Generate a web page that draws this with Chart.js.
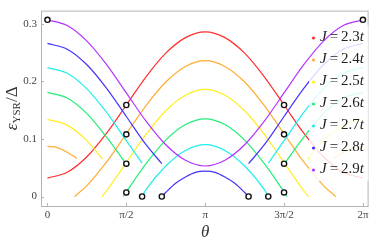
<!DOCTYPE html>
<html>
<head>
<meta charset="utf-8">
<script src="https://cdn.jsdelivr.net/npm/chart.js@4"></script>
<style>
body { margin: 0; background: #fff; }
#wrap { width: 374px; height: 248px; }
</style>
</head>
<body>
<div id="wrap"><canvas id="ysrChart" width="374" height="248"></canvas></div>
<script>
// theta is given in units of pi (0 .. 2), energies in units of Delta
const jValues = ['2.3', '2.4', '2.5', '2.6', '2.7', '2.8', '2.9'];
const jColors = ['#ff2d2d', '#ffad33', '#ffee22', '#22ee77', '#22eeee', '#4433ff', '#b533ff'];

const xTicks = [0, 0.5, 1, 1.5, 2];
const xTickLabels = ['0', 'π/2', 'π', '3π/2', '2π'];
const yTicks = [0, 0.1, 0.2, 0.3];

// J = 2.3t : lower branch only
const redX = [0, 0.125, 0.25, 0.375, 0.5, 0.625, 0.75, 0.875, 1, 1.125, 1.25, 1.375, 1.5, 1.625, 1.75, 1.875, 2];
const redY = [0.032, 0.042, 0.069, 0.110, 0.159, 0.208, 0.249, 0.276, 0.286, 0.276, 0.249, 0.208, 0.159, 0.110, 0.069, 0.042, 0.032];

// J = 2.4t
const orangeLowX = [0.172, 0.25, 0.375, 0.5, 0.625, 0.75, 0.875, 1, 1.125, 1.25, 1.375, 1.5, 1.625, 1.75, 1.828];
const orangeLowY = [0, 0.019, 0.060, 0.109, 0.158, 0.199, 0.226, 0.236, 0.226, 0.199, 0.158, 0.109, 0.060, 0.019, 0];
const orangeUpX = [0, 0.0625, 0.125, 0.1875, 1, 1.8125, 1.875, 1.9375, 2];
const orangeUpY = [0.087, 0.085, 0.077, 0.066, null, 0.066, 0.077, 0.085, 0.087];

// J = 2.5t
const yellowLowX = [0.346, 0.375, 0.5, 0.625, 0.75, 0.875, 1, 1.125, 1.25, 1.375, 1.5, 1.625, 1.654];
const yellowLowY = [0, 0.010, 0.059, 0.108, 0.149, 0.176, 0.186, 0.176, 0.149, 0.108, 0.059, 0.010, 0];
const yellowUpX = [0, 0.125, 0.25, 0.348, 1, 1.652, 1.75, 1.875, 2];
const yellowUpY = [0.134, 0.124, 0.097, 0.065, null, 0.065, 0.097, 0.124, 0.134];

// J = 2.6t
const greenLowX = [0.48, 0.5, 0.625, 0.75, 0.875, 1, 1.125, 1.25, 1.375, 1.5, 1.52];
const greenLowY = [0, 0.008, 0.057, 0.098, 0.125, 0.135, 0.125, 0.098, 0.057, 0.008, 0];
const greenUpX = [0, 0.125, 0.25, 0.375, 0.5, 1, 1.5, 1.625, 1.75, 1.875, 2];
const greenUpY = [0.181, 0.171, 0.144, 0.103, 0.056, null, 0.056, 0.103, 0.144, 0.171, 0.181];

// J = 2.7t
const cyanLowX = [0.6, 0.625, 0.75, 0.875, 1, 1.125, 1.25, 1.375, 1.4];
const cyanLowY = [0, 0.012, 0.053, 0.080, 0.090, 0.080, 0.053, 0.012, 0];
const cyanUpX = [0, 0.125, 0.25, 0.375, 0.5, 0.6, 1, 1.4, 1.5, 1.625, 1.75, 1.875, 2];
const cyanUpY = [0.224, 0.214, 0.187, 0.146, 0.097, 0.058, null, 0.058, 0.097, 0.146, 0.187, 0.214, 0.224];

// J = 2.8t
const blueLowX = [0.725, 0.75, 0.8125, 0.875, 0.9375, 1, 1.0625, 1.125, 1.1875, 1.25, 1.275];
const blueLowY = [0, 0.007, 0.023, 0.034, 0.042, 0.044, 0.042, 0.034, 0.023, 0.007, 0];
const blueUpX = [0, 0.125, 0.25, 0.375, 0.5, 0.625, 0.725, 1, 1.275, 1.375, 1.5, 1.625, 1.75, 1.875, 2];
const blueUpY = [0.266, 0.256, 0.229, 0.188, 0.139, 0.090, 0.057, null, 0.057, 0.090, 0.139, 0.188, 0.229, 0.256, 0.266];

// J = 2.9t : upper branch only
const purpleX = [0, 0.125, 0.25, 0.375, 0.5, 0.625, 0.75, 0.875, 1, 1.125, 1.25, 1.375, 1.5, 1.625, 1.75, 1.875, 2];
const purpleY = [0.307, 0.297, 0.270, 0.229, 0.180, 0.131, 0.090, 0.063, 0.053, 0.063, 0.090, 0.131, 0.180, 0.229, 0.270, 0.297, 0.307];

// open circles
const markX = [0, 2, 0.5, 0.5, 0.5, 0.5, 1.5, 1.5, 1.5, 1.5, 0.6, 0.725, 1.275, 1.4];
const markY = [0.307, 0.307, 0.159, 0.108, 0.057, 0.007, 0.159, 0.108, 0.057, 0.007, 0, 0, 0, 0];

const branches = [
    [0, redX, redY],
    [1, orangeLowX, orangeLowY], [1, orangeUpX, orangeUpY],
    [2, yellowLowX, yellowLowY], [2, yellowUpX, yellowUpY],
    [3, greenLowX, greenLowY], [3, greenUpX, greenUpY],
    [4, cyanLowX, cyanLowY], [4, cyanUpX, cyanUpY],
    [5, blueLowX, blueLowY], [5, blueUpX, blueUpY],
    [6, purpleX, purpleY]
];
const purpleIndex = branches.length - 1;

function zip(xs, ys) {
    return xs.map((x, i) => ({ x: x, y: ys[i] }));
}

const datasets = branches.map(([j, xs, ys]) => ({
    data: zip(xs, ys),
    borderColor: jColors[j],
    borderWidth: 1.2,
    pointRadius: 0,
    fill: false,
    spanGaps: false,
    cubicInterpolationMode: 'monotone',
    order: 10 - j
}));

datasets.push({
    data: zip(markX, markY),
    showLine: false,
    pointRadius: 2.6,
    pointBorderWidth: 1.4,
    pointBorderColor: '#111',
    pointBackgroundColor: '#fff',
    order: 0
});

const serif = '"Liberation Serif", "DejaVu Serif", serif';

// frame, inward ticks, axis titles and legend box
const decor = {
    id: 'decor',
    beforeDatasetsDraw(chart) {
        const { ctx, chartArea: a, scales } = chart;
        ctx.save();
        ctx.strokeStyle = '#b4b4b4';
        ctx.lineWidth = 1;
        ctx.strokeRect(a.left + 0.5, a.top + 0.5, a.right - a.left - 1, a.bottom - a.top);
        ctx.beginPath();
        xTicks.forEach(v => {
            const x = Math.round(scales.x.getPixelForValue(v)) + 0.5;
            ctx.moveTo(x, a.bottom); ctx.lineTo(x, a.bottom - 3);
        });
        yTicks.forEach(v => {
            const y = Math.round(scales.y.getPixelForValue(v)) + 0.5;
            ctx.moveTo(a.left, y); ctx.lineTo(a.left + 3, y);
        });
        ctx.stroke();
        ctx.restore();
    },
    // the legend background sits under the J = 2.9t curve but over the others
    beforeDatasetDraw(chart, args) {
        if (args.index !== purpleIndex) return;
        const { ctx, chartArea: a } = chart;
        ctx.save();
        ctx.fillStyle = 'rgba(255,255,255,0.82)';
        ctx.fillRect(309, 25, a.right - 309, 156);
        ctx.restore();
    },
    afterDatasetsDraw(chart) {
        const { ctx, chartArea: a } = chart;
        ctx.save();
        ctx.textBaseline = 'middle';
        jValues.forEach((jv, i) => {
            const y = 37 + i * 22;
            ctx.fillStyle = jColors[i];
            ctx.beginPath();
            ctx.arc(313.5, y + 1, 1.6, 0, Math.PI * 2);
            ctx.fill();
            ctx.fillStyle = '#222';
            let x = 320;
            ctx.font = 'italic 15px ' + serif;
            ctx.fillText('J', x, y);
            x += ctx.measureText('J').width + 3;
            ctx.font = '15px ' + serif;
            ctx.fillText('=', x, y);
            x += ctx.measureText('=').width + 3;
            ctx.fillText(jv, x, y);
            x += ctx.measureText(jv).width;
            ctx.font = 'italic 15px ' + serif;
            ctx.fillText('t', x, y);
        });
        // x title
        ctx.fillStyle = '#333';
        ctx.textAlign = 'center';
        ctx.font = 'italic 17px ' + serif;
        ctx.fillText('θ', (a.left + a.right) / 2 + 0.5, 233);
        // y title
        ctx.translate(13, (a.top + a.bottom) / 2);
        ctx.rotate(-Math.PI / 2);
        ctx.textAlign = 'left';
        const parts = [['italic 17px ', 'ε', 0], ['11px ', 'YSR', 4], ['17px ', '/Δ', 0]];
        let w = 0;
        parts.forEach(p => { ctx.font = p[0] + serif; w += ctx.measureText(p[1]).width; });
        let x = -w / 2;
        parts.forEach(p => {
            ctx.font = p[0] + serif;
            ctx.fillText(p[1], x, p[2]);
            x += ctx.measureText(p[1]).width;
        });
        ctx.restore();
    }
};

new Chart(document.getElementById('ysrChart'), {
    type: 'line',
    data: { datasets: datasets },
    options: {
        responsive: false,
        animation: false,
        devicePixelRatio: 1,
        layout: { padding: { top: 1, right: 1, left: 0, bottom: 0 } },
        plugins: { legend: { display: false }, tooltip: { enabled: false } },
        scales: {
            x: {
                type: 'linear',
                min: -0.041,
                max: 2.036,
                grid: { display: false, drawTicks: false },
                border: { display: false },
                afterFit: s => { s.height = 42; },
                afterBuildTicks: s => { s.ticks = xTicks.map(v => ({ value: v })); },
                ticks: {
                    padding: 3,
                    color: '#444',
                    font: { family: serif, size: 11 },
                    maxRotation: 0,
                    callback: v => xTickLabels[xTicks.indexOf(v)]
                }
            },
            y: {
                min: -0.0165,
                max: 0.323,
                grid: { display: false, drawTicks: false },
                border: { display: false },
                afterFit: s => { s.width = 41; },
                afterBuildTicks: s => { s.ticks = yTicks.map(v => ({ value: v })); },
                ticks: {
                    padding: 4,
                    color: '#444',
                    font: { family: serif, size: 11 },
                    callback: v => (v === 0 ? '0' : v.toFixed(1))
                }
            }
        }
    },
    plugins: [decor]
});
</script>
</body>
</html>
